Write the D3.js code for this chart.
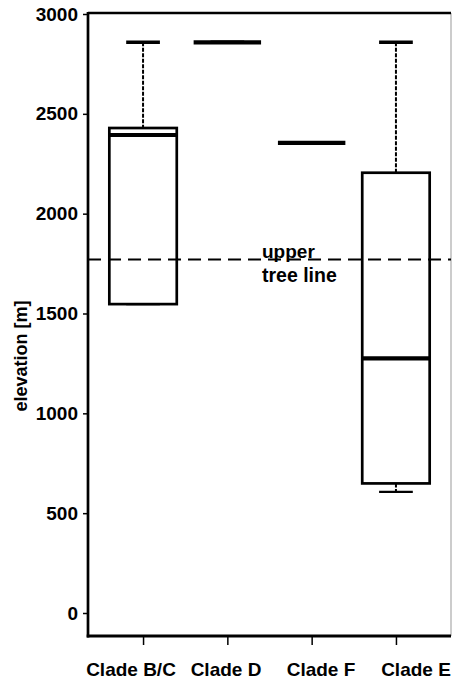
<!DOCTYPE html>
<html>
<head>
<meta charset="utf-8">
<script src="https://cdn.jsdelivr.net/npm/d3@7"></script>
<style>
  html, body { margin: 0; padding: 0; background: #fff; }
  svg text { font-family: "Liberation Sans", Arial, Helvetica, sans-serif; font-weight: bold; fill: #000; }
</style>
</head>
<body>
<svg id="chart" width="452" height="679"></svg>
<script>
// Elevation ranges per clade (m)
const categories = ["Clade B/C", "Clade D", "Clade F", "Clade E"];
const lowerWhisker = [1547, 2858, 2355, 607];
const q1Values     = [1547, 2858, 2355, 649];
const medianValues = [2394, 2858, 2355, 1275];
const q3Values     = [2429, 2858, 2355, 2205];
const upperWhisker = [2858, 2858, 2355, 2858];
const yTickValues  = [0, 500, 1000, 1500, 2000, 2500, 3000];
const treeLineElevation = 1770;
const treeLineLabel = ["upper", "tree line"];

const boxes = categories.map((c, i) => ({
  name: c,
  lo: lowerWhisker[i], q1: q1Values[i], med: medianValues[i],
  q3: q3Values[i], hi: upperWhisker[i]
}));

const svg = d3.select("#chart");
const plotLeft = 88, plotRight = 451, plotTop = 13, plotBottom = 636;

const y = d3.scaleLinear().domain([0, 3000]).range([613, 14]);
const x = d3.scalePoint().domain(categories).range([plotLeft, plotRight]).padding(0.653);
// category names sit on a slightly wider spacing than the ticks
const xLabel = d3.scalePoint().domain(categories).range([131, 416]);
const boxW = x.step() * 0.8;
const capW = boxW / 2;

// Frame: thin grey right edge, heavy top border
svg.append("line").attr("x1", plotRight).attr("x2", plotRight).attr("y1", plotTop).attr("y2", plotBottom)
  .attr("stroke", "#999").attr("stroke-width", 1);
svg.append("line").attr("x1", plotLeft).attr("x2", plotRight).attr("y1", plotTop).attr("y2", plotTop)
  .attr("stroke", "#000").attr("stroke-width", 2.5);

// Y axis
const yAxis = d3.axisLeft(y).tickValues(yTickValues).tickSize(5).tickPadding(5).tickFormat(d3.format("d"));
const gy = svg.append("g").attr("transform", `translate(${plotLeft},0)`).call(yAxis);
gy.select(".domain").remove();
gy.selectAll(".tick line").attr("stroke", "#000").attr("stroke-width", 1.5);
gy.selectAll(".tick text").style("font-size", "19px");
svg.append("line").attr("x1", plotLeft).attr("x2", plotLeft).attr("y1", plotTop - 1).attr("y2", plotBottom + 1.5)
  .attr("stroke", "#000").attr("stroke-width", 2.7);

// X axis (ticks only; names placed below)
const xAxis = d3.axisBottom(x).tickSize(9).tickFormat("");
const gx = svg.append("g").attr("transform", `translate(0,${plotBottom})`).call(xAxis);
gx.select(".domain").remove();
gx.selectAll(".tick line").attr("stroke", "#000").attr("stroke-width", 1.5);
svg.append("line").attr("x1", plotLeft - 1.3).attr("x2", plotRight).attr("y1", plotBottom).attr("y2", plotBottom)
  .attr("stroke", "#000").attr("stroke-width", 3);

svg.append("g").selectAll("text").data(categories).join("text")
  .attr("x", d => xLabel(d))
  .attr("y", 676)
  .attr("text-anchor", "middle")
  .style("font-size", "19px")
  .text(d => d);

// Y axis title
svg.append("text")
  .attr("transform", "rotate(-90)")
  .attr("x", -356).attr("y", 27)
  .attr("text-anchor", "middle")
  .style("font-size", "18px")
  .text("elevation [m]");

// Upper tree line
svg.append("line")
  .attr("x1", plotLeft).attr("x2", plotRight)
  .attr("y1", y(treeLineElevation)).attr("y2", y(treeLineElevation))
  .attr("stroke", "#000").attr("stroke-width", 2).attr("stroke-dasharray", "13,7");
svg.append("text").attr("x", 262).attr("y", y(treeLineElevation) - 1.5)
  .style("font-size", "19px").text(treeLineLabel[0]);
svg.append("text").attr("x", 262).attr("y", y(treeLineElevation) + 22)
  .style("font-size", "19.5px").text(treeLineLabel[1]);

// Box plots
const g = svg.append("g").selectAll("g").data(boxes).join("g")
  .attr("transform", d => `translate(${x(d.name)},0)`);

// whiskers
g.append("line").attr("x1", 0).attr("x2", 0)
  .attr("y1", d => y(d.hi)).attr("y2", d => y(d.q3))
  .attr("stroke", "#000").attr("stroke-width", 2).attr("stroke-dasharray", "4,1.5");
g.append("line").attr("x1", 0).attr("x2", 0)
  .attr("y1", d => y(d.q1)).attr("y2", d => y(d.lo))
  .attr("stroke", "#000").attr("stroke-width", 2).attr("stroke-dasharray", "4,1.5");

// caps
g.append("line").attr("x1", -capW / 2).attr("x2", capW / 2)
  .attr("y1", d => y(d.hi)).attr("y2", d => y(d.hi))
  .attr("stroke", "#000").attr("stroke-width", 3.5);
g.append("line").attr("x1", -capW / 2).attr("x2", capW / 2)
  .attr("y1", d => y(d.lo)).attr("y2", d => y(d.lo))
  .attr("stroke", "#000").attr("stroke-width", 2.2);

// box
g.append("rect")
  .attr("x", -boxW / 2).attr("width", boxW)
  .attr("y", d => y(d.q3)).attr("height", d => y(d.q1) - y(d.q3))
  .attr("fill", "none").attr("stroke", "#000").attr("stroke-width", 2.7);

// median
g.append("line").attr("x1", -boxW / 2).attr("x2", boxW / 2)
  .attr("y1", d => y(d.med)).attr("y2", d => y(d.med))
  .attr("stroke", "#000").attr("stroke-width", 4.2);
</script>
</body>
</html>
